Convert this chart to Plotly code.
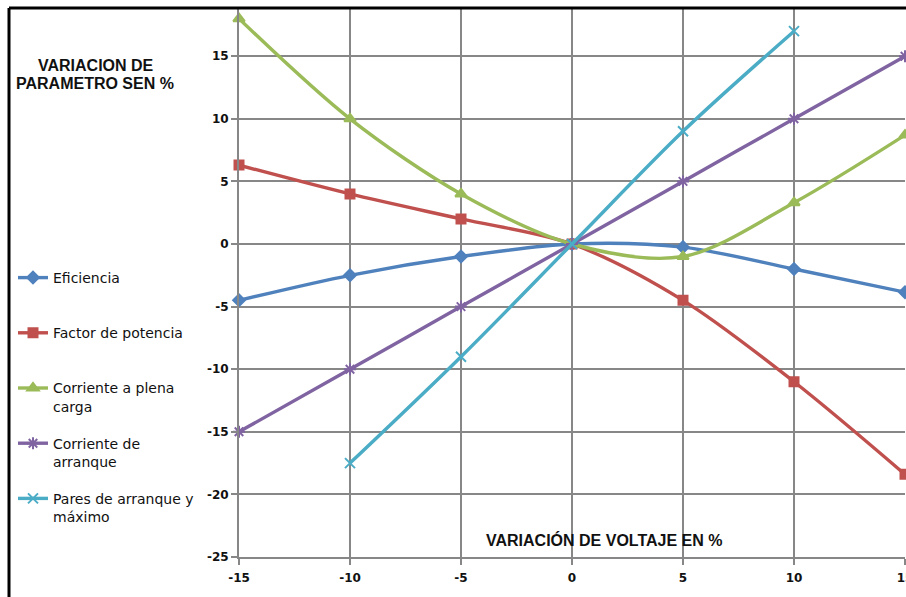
import plotly.graph_objects as go

# Voltage variation (%) on the x axis
voltaje = [-15, -10, -5, 0, 5, 10, 15]
voltaje_pares = [-10, -5, 0, 5, 10]

# Parameter variation (%) for each quantity
eficiencia = [-4.5, -2.5, -1.0, 0.0, -0.25, -2.0, -3.85]
factor_potencia = [6.3, 4.0, 2.0, 0.0, -4.5, -11.0, -18.4]
corriente_plena = [18.0, 10.0, 4.0, 0.0, -1.0, 3.3, 8.7]
corriente_arranque = [-15.0, -10.0, -5.0, 0.0, 5.0, 10.0, 15.0]
pares_arranque = [-17.5, -9.0, 0.0, 9.0, 17.0]

x_ticks = [-15, -10, -5, 0, 5, 10, 15]
y_ticks = [-25, -20, -15, -10, -5, 0, 5, 10, 15]

W, H = 906, 597
L, R, T, B = 239, 1, 9, 40
PW, PH = W - L - R, H - T - B


def px(x):
    return (x - L) / PW


def py(y):
    return (H - B - y) / PH


series = [
    ("Eficiencia<br>&nbsp;", voltaje, eficiencia, "#4F81BD",
     dict(symbol="diamond", size=9)),
    ("Factor de potencia<br>&nbsp;", voltaje, factor_potencia, "#C0504D",
     dict(symbol="square", size=9)),
    ("Corriente a plena<br>carga", voltaje, corriente_plena, "#9BBB59",
     dict(symbol="triangle-up", size=10)),
    ("Corriente de<br>arranque", voltaje, corriente_arranque, "#8064A2",
     dict(symbol="asterisk-open", size=10)),
    ("Pares de arranque y<br>máximo", voltaje_pares, pares_arranque, "#4BACC6",
     dict(symbol="x-thin-open", size=10)),
]

fig = go.Figure()
for i, (name, xs, ys, color, mk) in enumerate(series):
    fig.add_trace(go.Scatter(
        x=xs, y=ys, name=name, mode="lines+markers",
        legendgroup=f"g{i}",
        line=dict(color=color, width=3.4, shape="spline", smoothing=0.9),
        marker=dict(color=color, line=dict(color=color, width=2), **mk),
        cliponaxis=False,
    ))

grid = "#878787"
tick_font = dict(family="DejaVu Sans", size=12, color="#111111", weight="bold")

fig.update_xaxes(
    range=[-15, 15], tickvals=x_ticks, ticktext=[str(v) for v in x_ticks],
    showgrid=True, gridcolor=grid, gridwidth=2, zeroline=False,
    showline=True, linecolor=grid, linewidth=2,
    ticks="outside", ticklen=6, tickwidth=2, tickcolor=grid,
    tickfont=tick_font, ticklabelstandoff=3, ticklabeloverflow="allow",
    automargin=False, fixedrange=True,
)
fig.update_yaxes(
    range=[-25, 18.77],
    tickvals=y_ticks, ticktext=[str(v) for v in y_ticks],
    showgrid=True, gridcolor=grid, gridwidth=2, zeroline=False,
    showline=True, linecolor=grid, linewidth=2,
    ticks="outside", ticklen=6, tickwidth=2, tickcolor=grid,
    tickfont=tick_font, automargin=False, fixedrange=True,
)

title_font = dict(family="Liberation Sans", size=16, color="#111111", weight="bold")
annotations = [
    dict(text="VARIACION DE", x=px(96), y=py(65)),
    dict(text="PARAMETRO SEN %", x=px(95), y=py(84)),
    dict(text="VARIACIÓN DE VOLTAJE EN %", x=px(604), y=py(540)),
]
for a in annotations:
    a.update(xref="paper", yref="paper", showarrow=False,
             xanchor="center", yanchor="middle", font=title_font)

# Outer chart frame (left and top edges)
shapes = [
    dict(type="line", xref="paper", yref="paper",
         x0=px(9), x1=px(912), y0=py(8), y1=py(8),
         line=dict(color="black", width=3)),
    dict(type="line", xref="paper", yref="paper",
         x0=px(9), x1=px(9), y0=py(8), y1=py(605),
         line=dict(color="black", width=3)),
]

fig.update_layout(
    width=W, height=H,
    margin=dict(l=L, r=R, t=T, b=B, pad=0, autoexpand=False),
    paper_bgcolor="white", plot_bgcolor="white",
    annotations=annotations, shapes=shapes,
    showlegend=True,
    legend=dict(
        x=px(13), y=py(262), xanchor="left", yanchor="top",
        font=dict(family="DejaVu Sans", size=14, color="#111111"),
        valign="top", traceorder="grouped", tracegroupgap=15.8,
        bgcolor="rgba(0,0,0,0)", borderwidth=0,
    ),
)

fig.write_html("out.html")
